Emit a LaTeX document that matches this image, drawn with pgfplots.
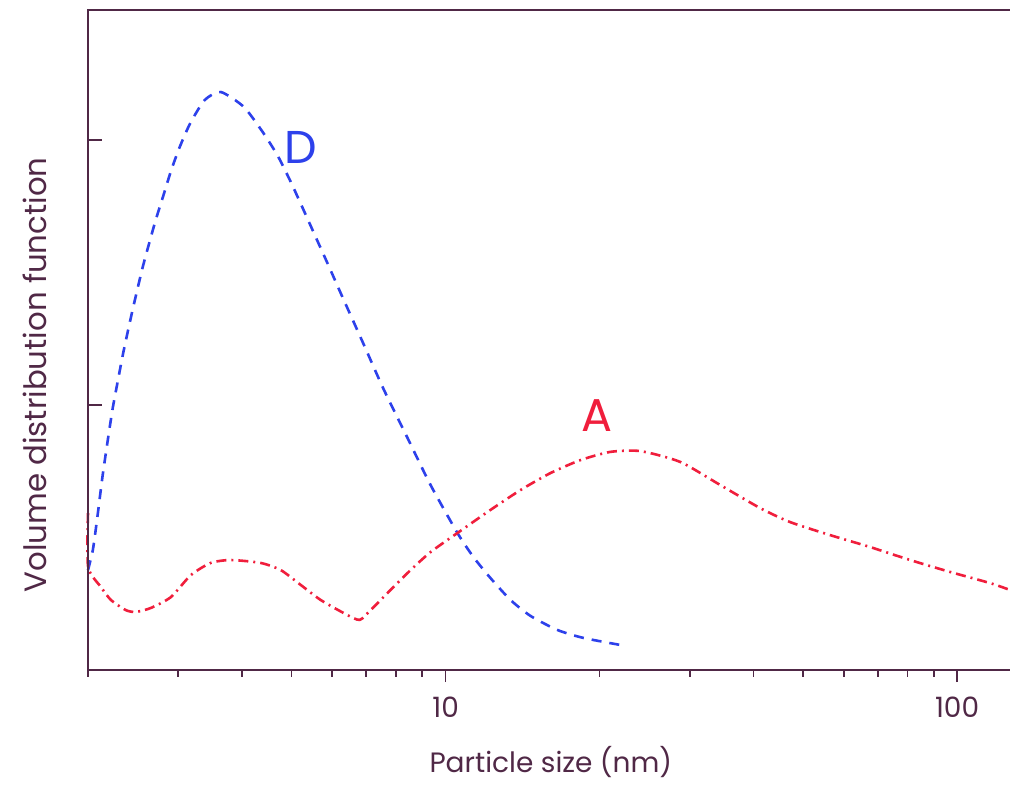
\documentclass[border=0pt]{standalone}
\usepackage{pgfplots}
\pgfplotsset{compat=1.18}
\usepackage{fontspec}
\setmainfont{Poppins}

\definecolor{axiscol}{RGB}{80,40,70}
\definecolor{dblue}{RGB}{45,65,235}
\definecolor{ared}{RGB}{240,30,60}

% volume distribution, sample D
\pgfplotstableread{
x y
2.000 0.377
2.044 0.453
2.086 0.577
2.134 0.728
2.182 0.857
2.232 0.981
2.283 1.083
2.350 1.208
2.442 1.355
2.559 1.521
2.702 1.687
2.802 1.785
2.910 1.887
3.023 1.974
3.170 2.064
3.383 2.151
3.636 2.181
4.032 2.125
4.391 2.030
4.699 1.940
4.981 1.842
5.257 1.743
5.573 1.634
5.909 1.525
6.235 1.423
6.884 1.238
7.567 1.060
8.430 0.875
9.348 0.698
10.55 0.517
11.34 0.426
12.24 0.347
13.40 0.264
14.66 0.204
16.55 0.151
18.60 0.121
22.47 0.091
}\sampleD

% volume distribution, sample A
\pgfplotstableread{
x y
2.000 0.592
2.001 0.389
2.120 0.313
2.218 0.264
2.371 0.226
2.480 0.219
2.653 0.234
2.904 0.275
3.177 0.358
3.475 0.404
3.803 0.415
4.352 0.404
4.764 0.377
5.210 0.321
5.702 0.264
6.378 0.211
6.792 0.189
7.137 0.226
7.809 0.302
8.543 0.377
9.348 0.445
10.55 0.517
12.24 0.604
14.01 0.679
16.03 0.743
18.35 0.792
20.99 0.823
24.04 0.826
28.77 0.785
34.44 0.698
41.21 0.611
47.19 0.558
56.48 0.509
67.61 0.464
80.93 0.415
96.9 0.370
116.0 0.328
126.9 0.302
}\sampleA

\begin{document}
\begin{tikzpicture}
\begin{axis}[
  name=ax,
  scale only axis,
  width=461pt, height=330pt,
  xmode=log,
  xmin=2, xmax=126.9,
  ymin=0, ymax=2.4906,
  axis line style={draw=none},
  tick align=outside,
  xtick pos=bottom,
  xtick={10,100},
  xticklabels={10,100},
  minor xtick={2,3,4,5,6,7,8,9,20,30,40,50,60,70,80,90},
  major tick length=6pt,
  minor tick length=3.5pt,
  tick style={draw=axiscol, line width=0.9pt},
  ytick=\empty,
  /pgf/number format/assume math mode=true,
  xticklabel style={font=\fontsize{14}{16}\selectfont, text=axiscol, yshift=-4pt},
  xlabel={Particle size (nm)},
  ylabel={Volume distribution function},
  xlabel style={font=\fontsize{14}{16}\selectfont, text=axiscol,
    at={(axis description cs:0.502,-0.1394)}, anchor=center},
  ylabel style={font=\fontsize{15.4}{17}\selectfont, text=axiscol,
    at={(axis description cs:-0.0575,0.447)}, anchor=center},
  clip=false,
]
\addplot[dblue, line width=1.3pt, smooth, tension=0.4, dash pattern=on 5pt off 4pt] table {\sampleD};
\addplot[ared, line width=1.3pt, smooth, tension=0.4, dash pattern=on 5pt off 2.5pt on 1pt off 2.5pt] table {\sampleA};
% frame on the left, bottom and top
\draw[axiscol, line width=1pt] (rel axis cs:1,1) -- (rel axis cs:0,1) -- (rel axis cs:0,0) -- (rel axis cs:1,0);
% y ticks pointing into the plot area
\draw[axiscol, line width=0.9pt] (axis cs:2,1) -- ([xshift=7pt]axis cs:2,1);
\draw[axiscol, line width=0.9pt] (axis cs:2,2) -- ([xshift=7pt]axis cs:2,2);
\node[dblue, font=\fontsize{23}{26}\selectfont] at (axis cs:5.21,1.970) {D};
\node[ared, font=\fontsize{23}{26}\selectfont] at (axis cs:19.81,0.962) {A};
\end{axis}
\pgfresetboundingbox
\path[use as bounding box] ([shift={(-44pt,-57.5pt)}]ax.south west) rectangle ++(505pt,392.5pt);
\end{tikzpicture}
\end{document}
